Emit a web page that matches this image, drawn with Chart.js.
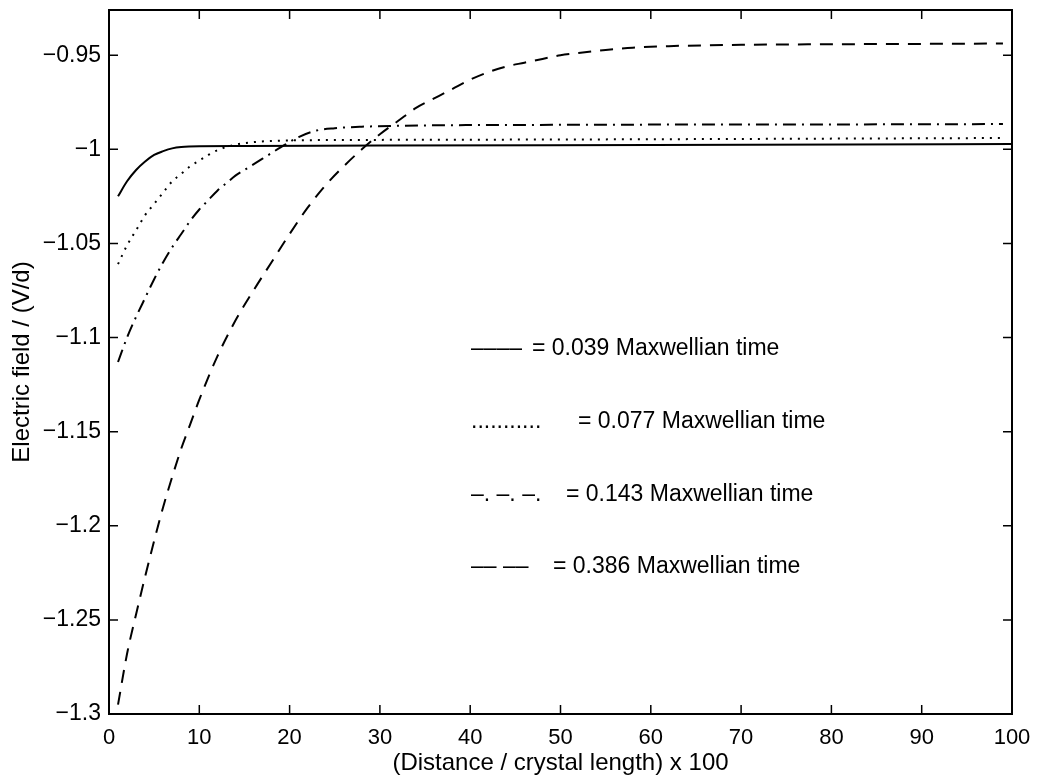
<!DOCTYPE html>
<html lang="en">
<head>
  <meta charset="UTF-8">
  <title>Electric field vs distance</title>
  <script src="https://cdn.jsdelivr.net/npm/chart.js"></script>
  <style>
    html, body { margin: 0; padding: 0; background: #fff; }
  </style>
</head>
<body>
  <canvas id="chart" width="1038" height="778"></canvas>

  <script>
    // values
    const xTicks = [0, 10, 20, 30, 40, 50, 60, 70, 80, 90, 100];
    const yTicks = [-1.3, -1.25, -1.2, -1.15, -1.1, -1.05, -1, -0.95];

    const solidX = [1, 2, 3, 4, 5, 6, 7, 8, 10, 15, 30, 60, 100];
    const solidY = [-1.025, -1.017, -1.011, -1.0065, -1.003, -1.001, -0.9995, -0.9988, -0.9984, -0.9983, -0.998, -0.9977, -0.9972];

    const dottedX = [1, 2, 3, 4, 5, 6, 7, 8, 9, 10, 11, 12, 14, 16, 20, 30, 50, 70, 99];
    const dottedY = [-1.061, -1.051, -1.043, -1.035, -1.029, -1.023, -1.017, -1.013, -1.009, -1.006, -1.003, -1.0005, -0.9975, -0.9962, -0.9953, -0.995, -0.9948, -0.9945, -0.994];

    const dashDotX = [1, 2, 3, 4, 5, 6, 7, 8, 9, 10, 11, 12, 13, 14, 15, 17, 19, 21, 23, 25, 28, 32, 50, 80, 99];
    const dashDotY = [-1.113, -1.1, -1.089, -1.079, -1.069, -1.06, -1.052, -1.045, -1.038, -1.032, -1.027, -1.022, -1.018, -1.014, -1.011, -1.005, -0.999, -0.9935, -0.99, -0.9888, -0.988, -0.9875, -0.987, -0.9868, -0.9866];

    const dashedX = [1, 2, 3, 4, 5, 6, 7, 8, 9, 10, 12, 14, 16, 18, 20, 22, 24, 26, 28, 30, 32, 34, 36, 38, 40, 42, 44, 46, 48, 50, 52, 55, 58, 62, 70, 80, 90, 99];
    const dashedY = [-1.295, -1.268, -1.247, -1.227, -1.208, -1.19, -1.174, -1.159, -1.146, -1.133, -1.11, -1.091, -1.075, -1.06, -1.045, -1.031, -1.019, -1.009, -1.0, -0.992, -0.985, -0.978, -0.973, -0.968, -0.963, -0.959, -0.956, -0.954, -0.952, -0.95, -0.9488, -0.9472, -0.946, -0.9452, -0.9445, -0.9442, -0.944, -0.9438];

    // legend is text inside the axes, line style drawn with characters
    const legendKeys = ['––––', '...........', '–. –. –.', '–– ––'];
    const legendText = [
      '= 0.039 Maxwellian time',
      '= 0.077 Maxwellian time',
      '= 0.143 Maxwellian time',
      '= 0.386 Maxwellian time'
    ];

    const FONT = '"Liberation Sans", Arial, Helvetica, sans-serif';

    function pairs(xs, ys) {
      return xs.map((x, i) => ({ x: x, y: ys[i] }));
    }

    function line(xs, ys, dash) {
      return {
        data: pairs(xs, ys),
        borderColor: '#000',
        borderWidth: 2,
        borderDash: dash,
        pointRadius: 0,
        cubicInterpolationMode: 'monotone',
        fill: false
      };
    }

    // box around the plot plus inward ticks on all four sides
    const frame = {
      id: 'frame',
      afterDraw(chart) {
        const { ctx, chartArea: a, scales } = chart;
        ctx.save();
        ctx.strokeStyle = '#000';
        ctx.lineWidth = 2;
        ctx.strokeRect(a.left, a.top, a.right - a.left, a.bottom - a.top);
        const len = 9;
        ctx.lineWidth = 1.5;
        ctx.beginPath();
        xTicks.forEach(v => {
          const px = scales.x.getPixelForValue(v);
          ctx.moveTo(px, a.bottom); ctx.lineTo(px, a.bottom - len);
          ctx.moveTo(px, a.top); ctx.lineTo(px, a.top + len);
        });
        yTicks.forEach(v => {
          const py = scales.y.getPixelForValue(v);
          ctx.moveTo(a.left, py); ctx.lineTo(a.left + len, py);
          ctx.moveTo(a.right, py); ctx.lineTo(a.right - len, py);
        });
        ctx.stroke();

        ctx.fillStyle = '#000';
        ctx.font = '23px ' + FONT;
        ctx.textBaseline = 'middle';
        const rows = [349, 422, 495, 567];
        const eqX = [532, 578, 566, 553];
        legendKeys.forEach((k, i) => {
          ctx.fillText(k, 471, rows[i]);
          ctx.fillText(legendText[i], eqX[i], rows[i]);
        });
        ctx.restore();
      }
    };

    const ctx = document.getElementById('chart').getContext('2d');
    const chart = new Chart(ctx, {
      type: 'line',
      data: {
        datasets: [
          line(solidX, solidY, []),
          line(dottedX, dottedY, [2, 6]),
          line(dashDotX, dashDotY, [13, 6, 2, 6]),
          line(dashedX, dashedY, [13, 9])
        ]
      },
      options: {
        responsive: false,
        animation: false,
        layout: { padding: { top: 10, right: 26, left: 0, bottom: 0 } },
        plugins: {
          legend: { display: false },
          tooltip: { enabled: false }
        },
        scales: {
          x: {
            type: 'linear',
            min: 0,
            max: 100,
            afterBuildTicks: s => { s.ticks = xTicks.map(v => ({ value: v })); },
            afterFit: s => {
              s.height = 64;
              s.paddingLeft = 0;
              s.paddingRight = 0;
            },
            grid: { display: false, drawTicks: false },
            border: { display: false },
            ticks: {
              color: '#000',
              padding: 11,
              maxRotation: 0,
              font: { family: FONT, size: 22 }
            },
            title: {
              display: true,
              text: '(Distance / crystal length) x 100',
              color: '#000',
              padding: { top: 2, bottom: 0 },
              font: { family: FONT, size: 24 }
            }
          },
          y: {
            type: 'linear',
            min: -1.3,
            max: -0.926,
            afterBuildTicks: s => { s.ticks = yTicks.map(v => ({ value: v })); },
            afterFit: s => {
              s.width = 109;
              s.paddingTop = 0;
              s.paddingBottom = 0;
            },
            grid: { display: false, drawTicks: false },
            border: { display: false },
            ticks: {
              color: '#000',
              padding: 8,
              font: { family: FONT, size: 23 },
              callback: v => String(Math.round(v * 100) / 100).replace('-', '−')
            },
            title: {
              display: true,
              text: 'Electric field / (V/d)',
              color: '#000',
              padding: { top: 8, bottom: 0 },
              font: { family: FONT, size: 24 }
            }
          }
        }
      },
      plugins: [frame]
    });
  </script>
</body>
</html>
